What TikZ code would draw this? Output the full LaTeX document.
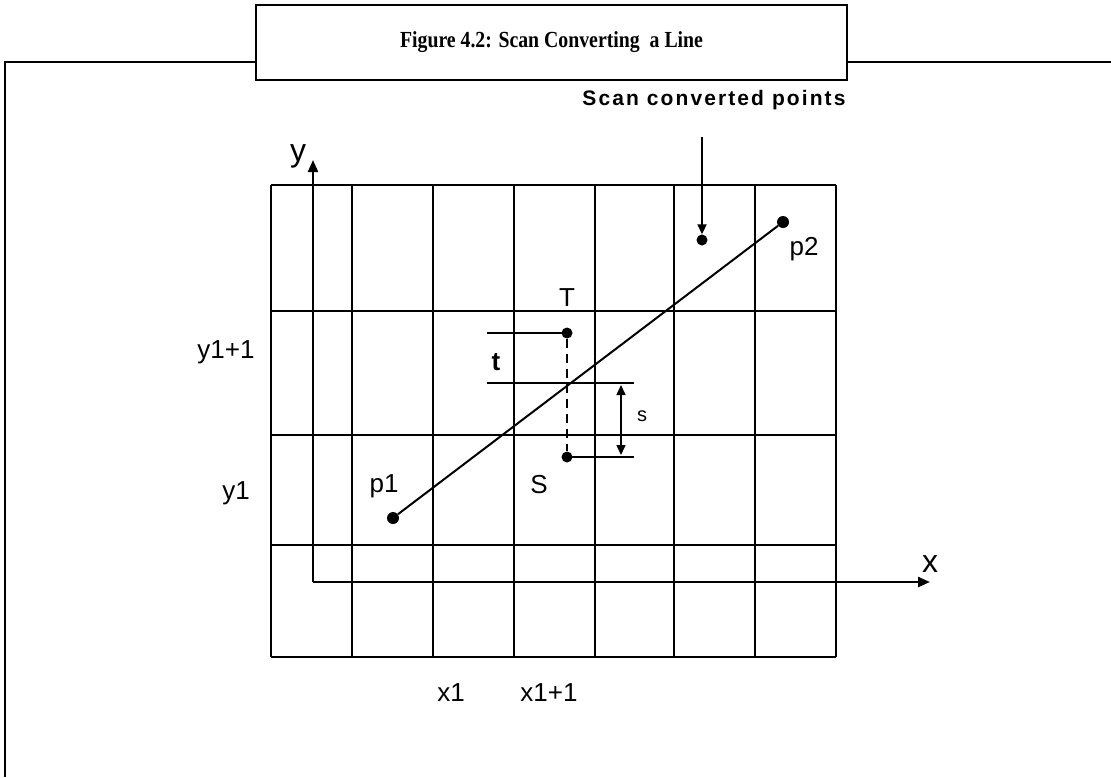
\documentclass[tikz,border=0pt]{standalone}
\usepackage{fontspec}
\setmainfont{Liberation Sans}
\newfontfamily\titlefont[FakeStretch=0.86]{Liberation Serif}
\usetikzlibrary{arrows.meta}
\tikzset{
  frameline/.style={line width=1.8pt},
  gridline/.style={line width=2.2pt},
  axis/.style={line width=2.2pt,-{Triangle[length=12pt,width=10pt]}},
  pointer/.style={line width=1.8pt,-{Triangle[length=10pt,width=9pt]}},
  dot/.style={circle,fill,inner sep=0pt,minimum size=12pt},
  lbl/.style={font=\fontsize{26}{30}\selectfont},
}
\begin{document}
\begin{tikzpicture}[x=1pt,y=-1pt]
    \useasboundingbox (0,0) rectangle (1111,777);
    % caption box and frame
    \node[draw,frameline,minimum width=591pt,minimum height=75pt,
          font=\titlefont\bfseries\fontsize{23}{27}\selectfont] (title) at (551.5,42.5)
          {Figure 4.2: Scan Converting\ \ a Line};
    \coordinate (fl) at (5,62);
    \coordinate (fr) at (1111,62);
    \draw[frameline] (5,777) -- (fl) -- (title.west |- fl);
    \draw[frameline] (title.east |- fr) -- (fr);
    % grid
    \foreach \x in {271,352,433,514,595,674,755,836}
        \draw[gridline] (\x,185) -- (\x,657);
    \foreach \y in {185,311,435,545,657}
        \draw[gridline] (271,\y) -- (836,\y);
    % axes
    \coordinate (o) at (313,582);
    \draw[axis] (o) -- (313,160) node[pos=1,xshift=-15pt,yshift=4pt,font=\fontsize{32}{36}\selectfont] (ylab) {y};
    \draw[axis] (o) -- (930,582) node[pos=1,yshift=18pt,font=\fontsize{32}{36}\selectfont] (xlab) {x};
    % axis labels
    \node[lbl] (y1p) at (226,352) {y1+1};
    \node[lbl] (y1) at (236,493) {y1};
    \node[lbl] (x1) at (451,693) {x1};
    \node[lbl] (x1p) at (549,693) {x1+1};
    % end points and the line
    \node[dot] (p1) at (393,518) {};
    \node[dot] (p2) at (783,222) {};
    \draw[line width=2pt] (p1) -- (p2);
    \node[lbl] (p1lab) at (384,486) {p1};
    \node[lbl] (p2lab) at (804,249) {p2};
    % candidate pixels T and S
    \node[dot,minimum size=11pt] (T) at (567,333) {};
    \node[dot,minimum size=11pt] (S) at (567,457) {};
    \node[lbl] (Tlab) at (567,298) {T};
    \node[lbl] (Slab) at (539,485) {S};
    \draw[line width=2pt,dash pattern=on 9pt off 6pt] (T) -- (S);
    \coordinate (ta) at (487,333);
    \coordinate (ma) at (487,383);
    \coordinate (mb) at (634,383);
    \coordinate (sb) at (634,457);
    \draw[line width=1.8pt] (ta) -- (T.center);
    \draw[line width=1.8pt] (ma) -- (mb);
    \draw[line width=1.8pt] (S.center) -- (sb);
    \node[font=\bfseries\fontsize{26}{30}\selectfont] (tlab) at (496,362) {t};
    \draw[line width=1.5pt,{Triangle[length=10pt,width=9pt]}-{Triangle[length=10pt,width=9pt]}]
        (621,385) -- (621,455);
    \node[font=\fontsize{20}{24}\selectfont] (slab) at (642,416) {s};
    % scan converted point
    \node[dot,minimum size=11pt] (pt) at (702,240) {};
    \node[font=\bfseries\addfontfeature{LetterSpace=10}\fontsize{21}{25}\selectfont] (scan) at (714,100) {Scan converted points};
    \coordinate (ptop) at (702,137);
    \draw[pointer] (ptop) -- (pt.north);
\end{tikzpicture}
\end{document}
